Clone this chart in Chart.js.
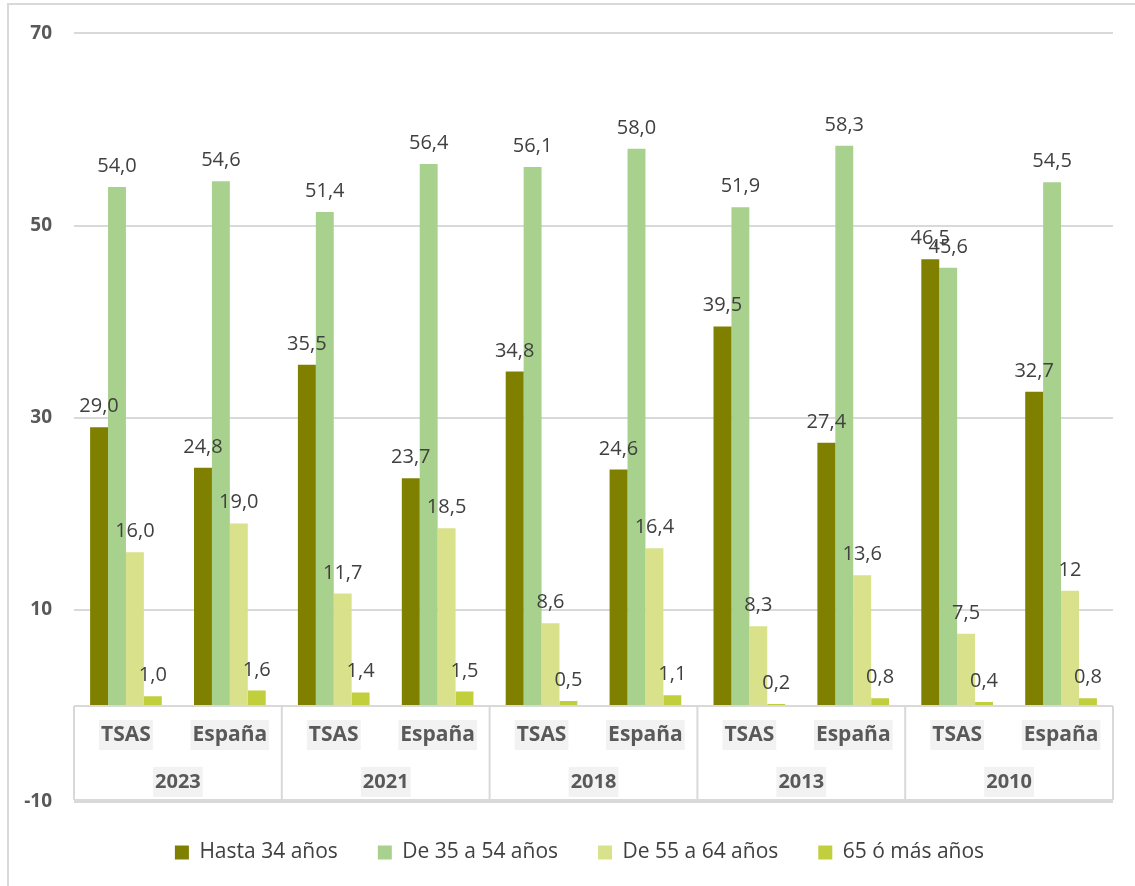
<!DOCTYPE html>
<html>
<head>
<meta charset="utf-8">
<script src="https://cdn.jsdelivr.net/npm/chart.js@4"></script>
<style>
  body { margin: 0; background: #fff; }
  #wrap { position: relative; width: 1135px; height: 886px; overflow: hidden; }
  #frame { position: absolute; left: 7px; top: 3px; width: 1200px; height: 1000px; border: 2px solid #d9d9d9; }
  #chart { position: absolute; left: 0; top: 0; }
</style>
</head>
<body>
<div id="wrap">
  <div id="frame"></div>
  <canvas id="chart" width="1135" height="886"></canvas>
</div>
<script>
const years = ["2023", "2021", "2018", "2013", "2010"];
const places = ["TSAS", "España"];
const seriesNames = ["Hasta 34 años", "De 35 a 54 años", "De 55 a 64 años", "65 ó más años"];
const hasta34 = [29.0, 24.8, 35.5, 23.7, 34.8, 24.6, 39.5, 27.4, 46.5, 32.7];
const de35a54 = [54.0, 54.6, 51.4, 56.4, 56.1, 58.0, 51.9, 58.3, 45.6, 54.5];
const de55a64 = [16.0, 19.0, 11.7, 18.5, 8.6, 16.4, 8.3, 13.6, 7.5, 12];
const mas65 = [1.0, 1.6, 1.4, 1.5, 0.5, 1.1, 0.2, 0.8, 0.4, 0.8];
// labels written without decimals in the original: [dataset, index]
const plainLabels = [[2, 9]];
const yTicks = [-10, 10, 30, 50, 70];

const colors = ["#808000", "#a9d18e", "#d9e18b", "#c2cf3c"];
const font = "'Open Sans', sans-serif";

const labels = [];
years.forEach(y => places.forEach(p => labels.push(p + " " + y)));

const valueLabels = {
    id: "valueLabels",
    afterDatasetsDraw(chart) {
        const ctx = chart.ctx;
        ctx.save();
        ctx.font = "20px " + font;
        ctx.fillStyle = "#404040";
        ctx.textAlign = "center";
        ctx.textBaseline = "alphabetic";
        chart.data.datasets.forEach((ds, di) => {
            chart.getDatasetMeta(di).data.forEach((bar, i) => {
                const v = ds.data[i];
                const plain = plainLabels.some(p => p[0] === di && p[1] === i);
                const txt = plain ? String(v) : v.toFixed(1).replace(".", ",");
                ctx.fillText(txt, bar.x, bar.y - 15);
            });
        });
        ctx.restore();
    }
};

const categoryBox = {
    id: "categoryBox",
    afterLayout(chart) {
        // legend sits centred under the plot area, not the whole canvas
        chart.legend.left += 23;
        chart.legend.right += 23;
    },
    afterDraw(chart) {
        const ctx = chart.ctx;
        const x = chart.scales.x, y = chart.scales.y;
        const area = chart.chartArea;
        const top = y.getPixelForValue(0);
        const bottom = y.getPixelForValue(-10) - 2;
        ctx.save();
        ctx.strokeStyle = "#d9d9d9";
        ctx.lineWidth = 2;
        ctx.beginPath();
        ctx.moveTo(area.left, top);
        ctx.lineTo(area.right, top);
        const seps = [area.left];
        for (let g = 1; g < years.length; g++) {
            seps.push((x.getPixelForValue(2 * g - 1) + x.getPixelForValue(2 * g)) / 2);
        }
        seps.push(area.right);
        seps.forEach(sx => { ctx.moveTo(sx, top); ctx.lineTo(sx, bottom); });
        ctx.moveTo(area.left, bottom);
        ctx.lineTo(area.right, bottom);
        ctx.stroke();

        ctx.textAlign = "center";
        ctx.textBaseline = "middle";
        function boxed(txt, cx, cy, size) {
            ctx.font = "bold " + size + "px " + font;
            const w = ctx.measureText(txt).width;
            ctx.fillStyle = "#f2f2f2";
            ctx.fillRect(cx - w / 2 - 2, cy - 15, w + 4, 30);
            ctx.fillStyle = "#595959";
            ctx.fillText(txt, cx, cy);
        }
        labels.forEach((l, i) => {
            boxed(places[i % 2], x.getPixelForValue(i), top + 29, 21);
        });
        years.forEach((yr, g) => {
            boxed(yr, (seps[g] + seps[g + 1]) / 2, top + 76, 20);
        });
        ctx.restore();
    }
};

const seriesData = [hasta34, de35a54, de55a64, mas65];

new Chart(document.getElementById("chart").getContext("2d"), {
    type: "bar",
    data: {
        labels: labels,
        datasets: seriesNames.map((name, i) => ({
            label: name,
            data: seriesData[i],
            backgroundColor: colors[i],
            borderWidth: 0,
            categoryPercentage: 0.69,
            barPercentage: 1.0
        }))
    },
    options: {
        responsive: false,
        animation: false,
        layout: { padding: { left: 0, right: 22, top: 33, bottom: 13 } },
        plugins: {
            legend: {
                position: "bottom",
                labels: {
                    boxWidth: 14,
                    boxHeight: 14,
                    padding: 40,
                    color: "#404040",
                    font: { family: font, size: 21 }
                }
            },
            tooltip: { enabled: false }
        },
        scales: {
            x: { display: false },
            y: {
                min: -10,
                max: 70,
                afterBuildTicks: s => { s.ticks = yTicks.map(v => ({ value: v })); },
                afterFit: s => { s.width = 74; },
                border: { display: false },
                grid: { color: "#d9d9d9", lineWidth: 2, drawTicks: false },
                ticks: {
                    padding: 22,
                    color: "#595959",
                    font: { family: font, size: 19, weight: "bold" }
                }
            }
        }
    },
    plugins: [valueLabels, categoryBox]
});
</script>
</body>
</html>
